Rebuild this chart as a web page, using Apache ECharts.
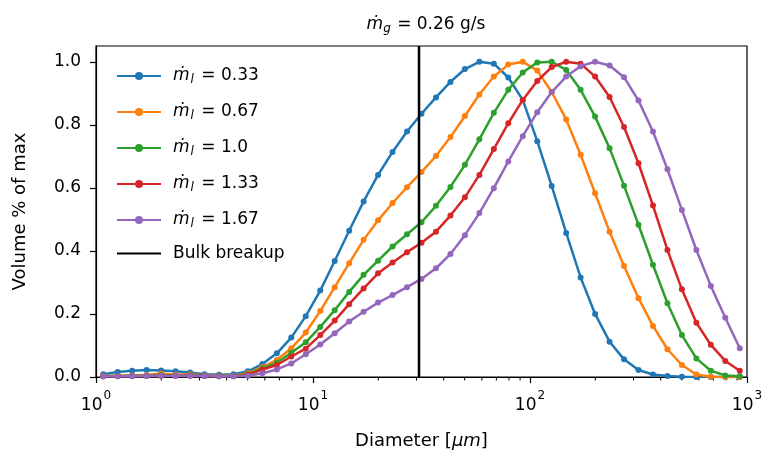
<!DOCTYPE html>
<html>
<head>
<meta charset="utf-8">
<script src="https://cdn.jsdelivr.net/npm/echarts@6/dist/echarts.min.js"></script>
<style>
html,body{margin:0;padding:0;background:#fff;}
#c{width:766px;height:452px;}
</style>
</head>
<body>
<div id="c"></div>
<script>
// ---- data ----
const diameters = [1.080,1.259,1.468,1.711,1.995,2.326,2.712,3.162,3.687,4.299,5.012,5.843,6.813,7.943,9.261,
  10.80,12.59,14.68,17.11,19.95,23.26,27.12,31.62,36.87,42.99,50.12,58.43,68.13,79.43,92.61,
  108.0,125.9,146.8,171.1,199.5,232.6,271.2,316.2,368.7,429.9,501.2,584.3,681.3,794.3,926.1];

const ml033 = [0.009,0.016,0.020,0.022,0.021,0.018,0.014,0.009,0.007,0.009,0.018,0.041,0.075,0.125,0.193,
  0.274,0.368,0.464,0.557,0.641,0.714,0.779,0.835,0.887,0.936,0.977,1.000,0.994,0.950,0.879,
  0.748,0.606,0.457,0.316,0.200,0.112,0.056,0.022,0.008,0.003,0.001,0,0,0,0];
const ml067 = [0.004,0.004,0.005,0.006,0.011,0.007,0.009,0.005,0.004,0.004,0.012,0.031,0.054,0.091,0.141,
  0.209,0.285,0.361,0.435,0.497,0.552,0.602,0.650,0.701,0.761,0.828,0.896,0.953,0.991,1.000,
  0.972,0.904,0.817,0.705,0.583,0.461,0.352,0.250,0.162,0.088,0.038,0.008,0.001,0,0];
const ml100 = [0.003,0.003,0.004,0.004,0.006,0.005,0.006,0.004,0.003,0.003,0.009,0.028,0.045,0.077,0.110,
  0.159,0.212,0.270,0.324,0.369,0.414,0.453,0.491,0.543,0.603,0.673,0.754,0.838,0.911,0.966,
  0.998,1.000,0.974,0.911,0.826,0.726,0.607,0.483,0.356,0.234,0.133,0.059,0.020,0.005,0.002];
const ml133 = [0.002,0.002,0.003,0.003,0.004,0.004,0.004,0.003,0.002,0.002,0.007,0.024,0.038,0.065,0.090,
  0.133,0.179,0.231,0.281,0.329,0.363,0.396,0.426,0.461,0.512,0.570,0.641,0.723,0.805,0.879,
  0.939,0.983,1.000,0.994,0.953,0.888,0.793,0.678,0.544,0.403,0.278,0.172,0.102,0.051,0.020];
const ml167 = [0.002,0.002,0.002,0.003,0.004,0.003,0.004,0.003,0.002,0.002,0.004,0.012,0.024,0.043,0.072,
  0.103,0.139,0.176,0.207,0.236,0.260,0.285,0.311,0.345,0.390,0.450,0.520,0.599,0.684,0.764,
  0.840,0.904,0.953,0.986,1.000,0.988,0.951,0.877,0.779,0.659,0.530,0.403,0.289,0.188,0.091];

const seriesLabels = ['0.33','0.67','1.0','1.33','1.67'];
const seriesValues = [ml033, ml067, ml100, ml133, ml167];
const bulkBreakupDiameter = 30.8;
const bulkName = 'Bulk breakup';
const titleValue = '0.26 g/s';
const xRange = [1, 1000];
const yRange = [0, 1.05];
const yInterval = 0.2;
const xMinorTicks = [2,3,4,5,6,7,8,9,20,30,40,50,60,70,80,90,200,300,400,500,600,700,800,900];

// ---- styles ----
const colors = ['#1f77b4','#ff7f0e','#2ca02c','#d62728','#9467bd'];
const FONT = 'DejaVu Sans';

const chart = echarts.init(document.getElementById('c'), null, {renderer:'canvas'});

const series = seriesLabels.map((lab, i) => ({
  name: lab,
  type: 'line',
  data: diameters.map((d, j) => [d, seriesValues[i][j]]),
  symbol: 'circle',
  symbolSize: 6,
  showSymbol: true,
  lineStyle: {width: 2.5, color: colors[i]},
  itemStyle: {color: colors[i]},
  emphasis: {disabled: true},
  animation: false,
  z: 3 + i
}));
series.push({
  name: bulkName,
  type: 'line',
  data: [[bulkBreakupDiameter, yRange[0]], [bulkBreakupDiameter, yRange[1]]],
  symbol: 'none',
  lineStyle: {width: 2.5, color: '#000'},
  itemStyle: {color: '#000'},
  emphasis: {disabled: true},
  animation: false,
  z: 10
});

const LFS = 17;
const richM = {
  i: {fontFamily: FONT, fontStyle: 'italic', fontSize: LFS, color: '#000', lineHeight: 20},
  s: {fontFamily: FONT, fontStyle: 'italic', fontSize: 12, color: '#000', verticalAlign: 'bottom', lineHeight: 20, padding: [9,2,0,1]},
  t: {fontFamily: FONT, fontSize: LFS, color: '#000', lineHeight: 20}
};

const legendData = seriesLabels.map(n => ({name: n}));
legendData.push({name: bulkName, itemStyle: {opacity: 0}});

chart.setOption({
  animation: false,
  backgroundColor: '#fff',
  title: {
    text: '{i|ṁ}{s|g}{t| = ' + titleValue + '}',
    left: 421,
    textAlign: 'center',
    top: 9,
    textStyle: {
      fontWeight: 'normal',
      rich: {
        i: {fontFamily: FONT, fontStyle: 'italic', fontWeight: 'normal', fontSize: 17, color: '#000'},
        s: {fontFamily: FONT, fontStyle: 'italic', fontWeight: 'normal', fontSize: 12, color: '#000', verticalAlign: 'bottom', padding: [9,1,0,0]},
        t: {fontFamily: FONT, fontWeight: 'normal', fontSize: 17, color: '#000'}
      }
    }
  },
  grid: {left: 96, right: 19, top: 46, bottom: 75, show: true, borderColor: '#000', borderWidth: 1.2,
         backgroundColor: 'transparent', containLabel: false, outerBoundsMode: 'none'},
  legend: {
    orient: 'vertical',
    left: 111,
    top: 60,
    itemWidth: 44,
    itemHeight: 10,
    itemGap: 15,
    data: legendData,
    formatter: function (name) {
      if (name === bulkName) return '{t|' + name + '}';
      return '{i|ṁ}{s|l}{t| = ' + name + '}';
    },
    textStyle: {fontFamily: FONT, fontSize: LFS, color: '#000', padding: [0,0,0,7], rich: richM}
  },
  xAxis: {
    type: 'log',
    logBase: 10,
    min: xRange[0],
    max: xRange[1],
    name: '{n|Diameter [}{i|μm}{n|]}',
    nameLocation: 'middle',
    nameGap: 55,
    nameTextStyle: {
      rich: {
        n: {fontFamily: FONT, fontSize: 18, color: '#000'},
        i: {fontFamily: FONT, fontSize: 18, fontStyle: 'italic', color: '#000'}
      }
    },
    axisLine: {show: true, onZero: false, lineStyle: {color: '#000', width: 1.2}},
    axisTick: {show: true, inside: false, length: 6, lineStyle: {color: '#000', width: 1.2}},
    splitLine: {show: false},
    minorTick: {show: false},
    axisLabel: {
      margin: 13,
      color: '#000',
      formatter: function (v) {
        const e = Math.round(Math.log10(v));
        return '{b|10}{e|' + e + '}';
      },
      rich: {
        b: {fontFamily: FONT, fontSize: 17, color: '#000', verticalAlign: 'bottom', lineHeight: 24},
        e: {fontFamily: FONT, fontSize: 12, color: '#000', verticalAlign: 'top', lineHeight: 24, padding: [0,0,0,1]}
      }
    }
  },
  yAxis: {
    type: 'value',
    min: yRange[0],
    max: yRange[1],
    interval: yInterval,
    name: 'Volume % of max',
    nameLocation: 'middle',
    nameGap: 67,
    nameRotate: 90,
    nameTextStyle: {fontFamily: FONT, fontSize: 18, color: '#000'},
    axisLine: {show: true, lineStyle: {color: '#000', width: 1.2}},
    axisTick: {show: true, inside: false, length: 6, lineStyle: {color: '#000', width: 1.2}},
    splitLine: {show: false},
    axisLabel: {
      margin: 15,
      fontFamily: FONT,
      fontSize: 17,
      color: '#000',
      showMaxLabel: false,
      formatter: function (v) { return v > 1.0001 ? '' : v.toFixed(1); }
    }
  },
  series: series
});

// minor ticks on the log axis, placed through the axis scale
const y0 = chart.convertToPixel({yAxisIndex: 0}, yRange[0]);
const gfx = xMinorTicks.map(function (t) {
  const px = chart.convertToPixel({xAxisIndex: 0}, t);
  return {type: 'line', shape: {x1: px, y1: y0, x2: px, y2: y0 + 3.5}, style: {stroke: '#000', lineWidth: 1}, silent: true};
});
chart.setOption({graphic: gfx});
</script>
</body>
</html>
